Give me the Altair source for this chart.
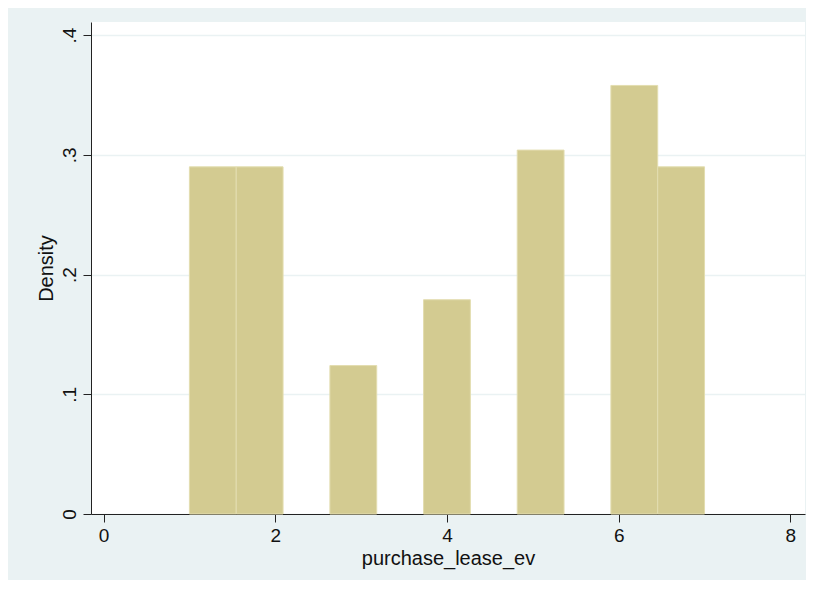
import altair as alt
import pandas as pd

bin_start = [1.0, 1.5455, 2.6364, 3.7273, 4.8182, 5.9091, 6.4545]
bin_end = [1.5455, 2.0909, 3.1818, 4.2727, 5.3636, 6.4545, 7.0]
density = [0.290, 0.290, 0.124, 0.179, 0.304, 0.358, 0.290]

x_ticks = [0, 2, 4, 6, 8]
y_ticks = [0, 0.1, 0.2, 0.3, 0.4]

df = pd.DataFrame({"x0": bin_start, "x1": bin_end, "d": density})

FONT = "Liberation Sans"

def ylab_expr():
    return "datum.value == 0 ? '0' : replace(format(datum.value, '.1f'), '0.', '.')"

chart = alt.Chart(df).mark_bar(
    color="#D3CB91", stroke="#E3DDB0", strokeWidth=1
).encode(
    x=alt.X("x0:Q",
            scale=alt.Scale(domain=[-0.146, 8.17], nice=False, zero=False),
            axis=alt.Axis(values=x_ticks, title="purchase_lease_ev", grid=False,
                          format="d", labelFontSize=19, titleFontSize=20,
                          tickSize=8, labelPadding=4, titlePadding=3,
                          domainColor="#222222", tickColor="#222222",
                          labelColor="#111111", titleColor="#111111",
                          labelFont=FONT, titleFont=FONT, titleFontWeight="normal")),
    x2="x1:Q",
    y=alt.Y("d:Q",
            scale=alt.Scale(domain=[0, 0.411], nice=False),
            axis=alt.Axis(values=y_ticks, title="Density", grid=True,
                          gridColor="#EAF2F3", gridWidth=1.5,
                          labelExpr=ylab_expr(), labelAngle=270,
                          labelAlign="center", labelBaseline="bottom",
                          labelFontSize=19, titleFontSize=20,
                          tickSize=8, labelPadding=4, titlePadding=4,
                          domainColor="#222222", tickColor="#222222",
                          labelColor="#111111", titleColor="#111111",
                          labelFont=FONT, titleFont=FONT, titleFontWeight="normal")),
    y2=alt.value(492),
).properties(
    width=714, height=492,
    background="#EAF2F3",
    padding={"left": 83, "top": 14, "right": 1, "bottom": 66},
    autosize=alt.AutoSizeParams(type="none"),
).configure_view(
    fill="white", stroke=None
)

chart.save("out.html", embed_options={"renderer": "svg", "actions": False})
